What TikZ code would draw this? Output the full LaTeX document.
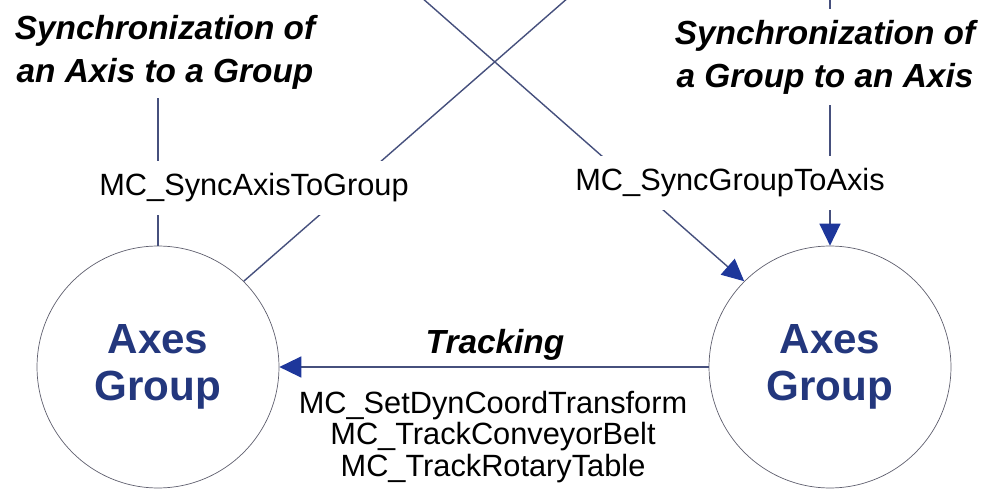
\documentclass[tikz,border=0pt]{standalone}
\usepackage{fontspec}
\setmainfont{Liberation Sans}
\usepackage{xcolor}
\usetikzlibrary{arrows.meta}

\definecolor{linecol}{RGB}{70,80,125}
\definecolor{tipcol}{RGB}{30,55,155}
\definecolor{groupcol}{RGB}{35,55,125}
\definecolor{ringcol}{RGB}{95,95,110}

\tikzset{
    group/.style={circle, draw=ringcol, thin, minimum size=4.84cm, align=center,
        text=groupcol, font=\bfseries\fontsize{24}{26.7}\selectfont},
    heading/.style={align=center, fill=white, inner sep=5pt,
        font=\bfseries\itshape\fontsize{19}{24.5}\selectfont},
    fblock/.style={align=center, fill=white, inner xsep=3pt, inner ysep=7pt,
        font=\fontsize{17.5}{17.7}\selectfont},
    link/.style={draw=linecol, line width=0.8pt},
    tip/.style={-{Triangle[length=0.44cm, width=0.42cm, color=tipcol]}},
}

\begin{document}
\begin{tikzpicture}[x=0.02cm, y=-0.02cm]
    \useasboundingbox (0,0) rectangle (988,489);
    \clip (0,0) rectangle (988,489);
    % the two axes groups
    \node[group] (grpL) at (158,367) {Axes\\Group};
    \node[group] (grpR) at (830,367) {Axes\\Group};
    \node[heading] (syncL) at (165,52) {Synchronization of\\an Axis to a Group};
    % lines coming in from above the picture
    \coordinate (topA) at (413,-10);
    \coordinate (topB) at (577,-10);
    \coordinate (topR) at (830,-10);
    \draw[link] (syncL.south -| grpL) -- (grpL);
    \draw[link] (topB) -- (grpL.45);
    \draw[link, tip] (topA) -- (grpR.135);
    \draw[link, tip] (topR) -- (grpR.north);
    \draw[link, tip] (grpR) -- (grpL);
    % labels on top of the lines
    \node[heading, inner sep=6pt] (syncR) at (825,57) {Synchronization of\\a Group to an Axis};
    \node[fblock] (fbAxis) at (254,188) {MC\_SyncAxisToGroup};
    \node[fblock] (fbGroup) at (730,183) {MC\_SyncGroupToAxis};
    \node[heading, fill=none] (track) at (495,345) {Tracking};
    \node[fblock, fill=none] (fbTrack) at (493,437)
        {MC\_SetDynCoordTransform\\MC\_TrackConveyorBelt\\MC\_TrackRotaryTable};
\end{tikzpicture}
\end{document}
